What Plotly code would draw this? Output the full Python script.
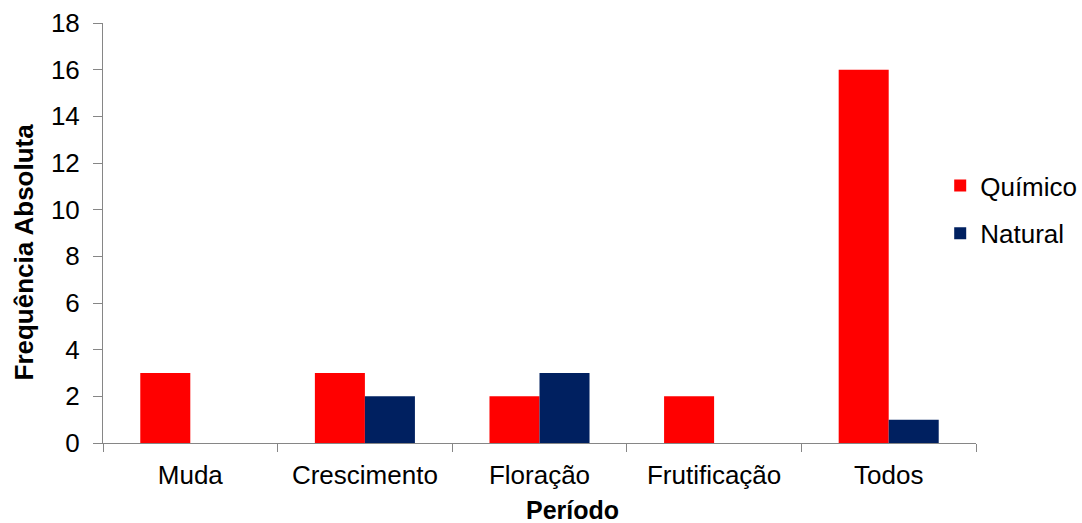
import plotly.graph_objects as go

periodos = ["Muda", "Crescimento", "Floração", "Frutificação", "Todos"]
quimico = [3, 3, 2, 2, 16]
natural = [0, 2, 3, 0, 1]
y_ticks = [0, 2, 4, 6, 8, 10, 12, 14, 16, 18]

FONT = "Liberation Sans, Arial, sans-serif"
AXIS_COLOR = "#868686"

fig = go.Figure()
fig.add_trace(go.Bar(x=periodos, y=quimico, name="Químico",
                     marker=dict(color="#FF0000", line=dict(width=0)),
                     legendgroup="q"))
fig.add_trace(go.Bar(x=periodos, y=natural, name="Natural",
                     marker=dict(color="#002060", line=dict(width=0)),
                     legendgroup="n"))

fig.update_layout(
    width=1082, height=523,
    margin=dict(l=103, r=106, t=23, b=80, autoexpand=False),
    plot_bgcolor="white", paper_bgcolor="white",
    barmode="group", bargap=0.427, bargroupgap=0,
    font=dict(family=FONT, size=26, color="black"),
    legend=dict(x=0.959, y=0.556, xanchor="left", yanchor="middle",
                font=dict(size=26), tracegroupgap=11, traceorder="grouped",
                itemwidth=30),
    xaxis=dict(
        showline=True, linecolor=AXIS_COLOR, linewidth=1,
        ticks="outside", tickson="boundaries", ticklen=8, tickcolor=AXIS_COLOR,
        tickfont=dict(size=26), ticklabelstandoff=9,
    ),
    yaxis=dict(
        range=[0, 18], tickvals=y_ticks, showgrid=False, zeroline=False,
        showline=True, linecolor=AXIS_COLOR, linewidth=1,
        ticks="outside", ticklen=9, tickcolor=AXIS_COLOR,
        tickfont=dict(size=26), ticklabelstandoff=8,
    ),
    annotations=[
        dict(text="<b>Período</b>", xref="paper", yref="paper",
             x=0.5378, y=-0.1607, xanchor="center", yanchor="middle",
             showarrow=False, font=dict(size=25)),
        dict(text="<b>Frequência Absoluta</b>", xref="paper", yref="paper",
             x=-0.0905, y=0.456, xanchor="center", yanchor="middle",
             textangle=-90, showarrow=False, font=dict(size=26)),
    ],
)

fig.write_html("out.html")
